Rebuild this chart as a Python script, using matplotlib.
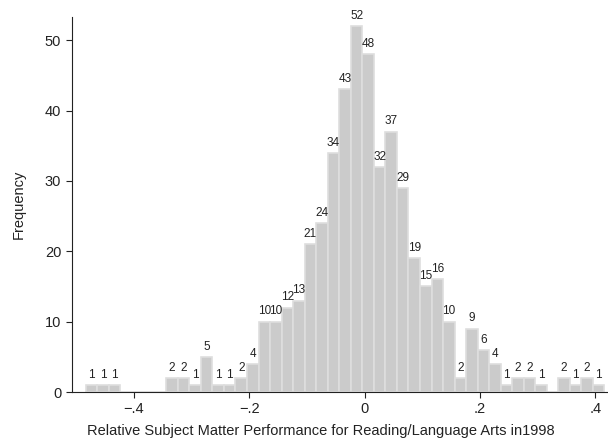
import numpy as np
import matplotlib.pyplot as plt

plt.rcParams['font.family'] = ['Liberation Sans', 'DejaVu Sans']

# histogram: bins of width .02 starting at -.484
bin_start = -0.484
bin_width = 0.02
counts = [1, 1, 1, 0, 0, 0, 0, 2, 2, 1, 5, 1, 1, 2, 4, 10, 10, 12, 13, 21,
          24, 34, 43, 52, 48, 32, 37, 29, 19, 15, 16, 10, 2, 9, 6, 4, 1, 2, 2, 1,
          0, 2, 1, 2, 1]
bin_left = bin_start + bin_width * np.arange(len(counts))

x_ticks = [-0.4, -0.2, 0, 0.2, 0.4]
x_tick_labels = ["\u2212.4", "\u2212.2", "0", ".2", ".4"]
y_ticks = [0, 10, 20, 30, 40, 50]

fig = plt.figure(figsize=(6.08, 4.45), dpi=100)
ax = fig.add_axes([0.118, 0.119, 0.88, 0.843])

bars = ax.bar(bin_left, counts, width=bin_width, align='edge',
              color='#cbcbcb', edgecolor='#dedede', linewidth=1.2)

for x, c in zip(bin_left, counts):
    if c > 0:
        ax.text(x + bin_width / 2, c + 0.6, str(c), ha='center', va='bottom',
                fontsize=8.5, color='#222222')

ax.set_xlim(-0.508, 0.42)
ax.set_ylim(0, 53.3)
ax.set_xticks(x_ticks)
ax.set_xticklabels(x_tick_labels)
ax.set_yticks(y_ticks)
ax.tick_params(axis='both', direction='out', length=4, width=0.8,
               labelsize=10.5, colors='#222222')

for s in ['top', 'right']:
    ax.spines[s].set_visible(False)
for s in ['left', 'bottom']:
    ax.spines[s].set_linewidth(0.8)
    ax.spines[s].set_color('#222222')

ax.set_xlabel("Relative Subject Matter Performance for Reading/Language Arts in1998",
              fontsize=10.5, color='#222222')
ax.xaxis.set_label_coords(0.466, -0.085)
ax.set_ylabel("Frequency", fontsize=10.5, color='#222222', labelpad=14)

plt.savefig("out.png", dpi=100)
